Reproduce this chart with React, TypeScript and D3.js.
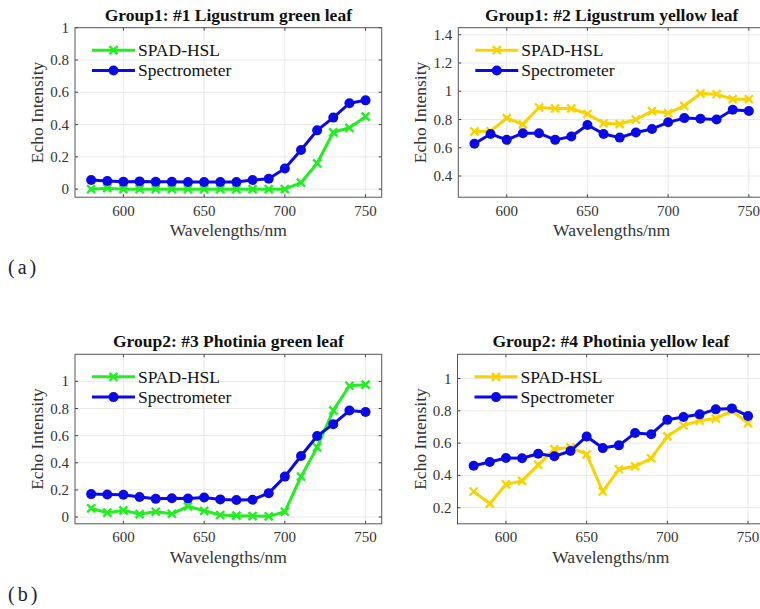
import React from 'react';
import * as d3 from 'd3';

// wavelengths sampled (nm)
const wavelengths = [580, 590, 600, 610, 620, 630, 640, 650, 660, 670, 680, 690, 700, 710, 720, 730, 740, 750];

// #1 Ligustrum green leaf
const ligGreenSpad = [0.0, 0.006, 0.0, 0.0, 0.0, 0.0, 0.0, 0.0, 0.0, 0.0, 0.0, 0.0, 0.0, 0.04, 0.16, 0.352, 0.38, 0.449];
const ligGreenSpec = [0.056, 0.05, 0.046, 0.048, 0.046, 0.046, 0.044, 0.044, 0.044, 0.044, 0.056, 0.064, 0.128, 0.242, 0.364, 0.443, 0.532, 0.55];

// #2 Ligustrum yellow leaf
const ligYellowSpad = [0.715, 0.717, 0.81, 0.766, 0.885, 0.878, 0.878, 0.839, 0.773, 0.768, 0.8, 0.86, 0.846, 0.897, 0.984, 0.979, 0.944, 0.944];
const ligYellowSpec = [0.628, 0.698, 0.656, 0.703, 0.703, 0.656, 0.68, 0.761, 0.698, 0.672, 0.708, 0.733, 0.78, 0.81, 0.806, 0.8, 0.869, 0.86];

// #3 Photinia green leaf
const phoGreenSpad = [0.064, 0.032, 0.049, 0.022, 0.039, 0.024, 0.078, 0.046, 0.015, 0.01, 0.007, 0.005, 0.039, 0.298, 0.513, 0.787, 0.968, 0.976];
const phoGreenSpec = [0.169, 0.166, 0.164, 0.147, 0.134, 0.139, 0.137, 0.144, 0.13, 0.125, 0.127, 0.176, 0.298, 0.45, 0.597, 0.685, 0.785, 0.775];

// #4 Photinia yellow leaf
const phoYellowSpad = [0.3, 0.225, 0.344, 0.366, 0.465, 0.563, 0.573, 0.53, 0.3, 0.438, 0.456, 0.506, 0.641, 0.709, 0.739, 0.752, 0.801, 0.723];
const phoYellowSpec = [0.46, 0.483, 0.508, 0.506, 0.534, 0.518, 0.551, 0.641, 0.569, 0.586, 0.662, 0.655, 0.744, 0.762, 0.778, 0.809, 0.815, 0.768];

const xTicks = [600, 650, 700, 750];
const seriesNames = ['SPAD-HSL', 'Spectrometer'];
const titles = [
  'Group1: #1 Ligustrum green leaf',
  'Group1: #2 Ligustrum yellow leaf',
  'Group2: #3 Photinia green leaf',
  'Group2: #4 Photinia yellow leaf',
];

const GREEN = '#22ee22';
const YELLOW = '#fad200';
const BLUE = '#0a0ae6';
const FONT = 'Liberation Serif, Times New Roman, serif';

const panels = [
  { title: titles[0], left: 75, top: 27.7, spad: ligGreenSpad, spec: ligGreenSpec, color: GREEN, yDomain: [-0.05, 1], yTicks: [0, 0.2, 0.4, 0.6, 0.8, 1] },
  { title: titles[1], left: 458.3, top: 27.7, spad: ligYellowSpad, spec: ligYellowSpec, color: YELLOW, yDomain: [0.25, 1.45], yTicks: [0.4, 0.6, 0.8, 1, 1.2, 1.4] },
  { title: titles[2], left: 75, top: 354.3, spad: phoGreenSpad, spec: phoGreenSpec, color: GREEN, yDomain: [-0.05, 1.2], yTicks: [0, 0.2, 0.4, 0.6, 0.8, 1] },
  { title: titles[3], left: 457.5, top: 354.3, spad: phoYellowSpad, spec: phoYellowSpec, color: YELLOW, yDomain: [0.1, 1.15], yTicks: [0.2, 0.4, 0.6, 0.8, 1] },
];

const W = 306.7;
const H = 169.5;

function XMark({ x, y, color }: { x: number; y: number; color: string }) {
  const s = 4;
  return (
    <g stroke={color} strokeWidth={2.4}>
      <line x1={x - s} y1={y - s} x2={x + s} y2={y + s} />
      <line x1={x - s} y1={y + s} x2={x + s} y2={y - s} />
    </g>
  );
}

function Panel({ p }: { p: any }) {
  const x = d3.scaleLinear().domain([570, 760]).range([0, W]);
  const y = d3.scaleLinear().domain(p.yDomain).range([H, 0]);
  const line = d3.line<number>().x((_, i) => x(wavelengths[i])).y((d) => y(d));
  const fmt = (v: number) => d3.format('~g')(+v.toFixed(2));
  const txt = { fontFamily: FONT };

  return (
    <g transform={`translate(${p.left},${p.top})`}>
      <rect x={0} y={0} width={W} height={H} fill="#fff" />
      {xTicks.map((t) => (
        <line key={'gx' + t} x1={x(t)} x2={x(t)} y1={0} y2={H} stroke="#e3e3e3" strokeWidth={0.8} />
      ))}
      {p.yTicks.map((t: number) => (
        <line key={'gy' + t} x1={0} x2={W} y1={y(t)} y2={y(t)} stroke="#e3e3e3" strokeWidth={0.8} />
      ))}
      {xTicks.map((t) => (
        <g key={'tx' + t}>
          <line x1={x(t)} x2={x(t)} y1={H} y2={H - 3} stroke="#444" />
          <line x1={x(t)} x2={x(t)} y1={0} y2={3} stroke="#444" />
          <text x={x(t)} y={H + 18.5} textAnchor="middle" fontSize={15} fill="#333" style={txt}>{t}</text>
        </g>
      ))}
      {p.yTicks.map((t: number) => (
        <g key={'ty' + t}>
          <line x1={0} x2={3} y1={y(t)} y2={y(t)} stroke="#444" />
          <line x1={W} x2={W - 3} y1={y(t)} y2={y(t)} stroke="#444" />
          <text x={-6} y={y(t) + 5} textAnchor="end" fontSize={15} fill="#333" style={txt}>{fmt(t)}</text>
        </g>
      ))}
      <rect x={0} y={0} width={W} height={H} fill="none" stroke="#555" strokeWidth={1} />

      <path d={line(p.spad) || ''} fill="none" stroke={p.color} strokeWidth={3} strokeLinejoin="round" />
      {p.spad.map((v: number, i: number) => (
        <XMark key={'s' + i} x={x(wavelengths[i])} y={y(v)} color={p.color} />
      ))}
      <path d={line(p.spec) || ''} fill="none" stroke={BLUE} strokeWidth={3} strokeLinejoin="round" />
      {p.spec.map((v: number, i: number) => (
        <circle key={'c' + i} cx={x(wavelengths[i])} cy={y(v)} r={5} fill={BLUE} />
      ))}

      {/* legend */}
      <g>
        <line x1={17} x2={60} y1={22.5} y2={22.5} stroke={p.color} strokeWidth={3} />
        <XMark x={38.5} y={22.5} color={p.color} />
        <text x={63} y={28.5} fontSize={17.5} fill="#111" style={txt}>{seriesNames[0]}</text>
        <line x1={17} x2={60} y1={42.8} y2={42.8} stroke={BLUE} strokeWidth={3} />
        <circle cx={38.5} cy={42.8} r={5} fill={BLUE} />
        <text x={63} y={48.8} fontSize={17.5} fill="#111" style={txt}>{seriesNames[1]}</text>
      </g>

      <text x={W / 2} y={-7} textAnchor="middle" fontSize={17.5} fontWeight="bold" fill="#111" style={txt}>{p.title}</text>
      <text x={W / 2} y={H + 39} textAnchor="middle" fontSize={17.5} fill="#333" style={txt}>Wavelengths/nm</text>
      <text transform={`translate(-32,${H / 2}) rotate(-90)`} textAnchor="middle" fontSize={17.5} fill="#333" style={txt}>Echo Intensity</text>
    </g>
  );
}

export default function App() {
  return (
    <svg width={760} height={609} style={{ position: 'absolute', left: 0, top: 0, background: '#fff' }}>
      <rect width={760} height={609} fill="#fff" />
      {panels.map((p, i) => (
        <Panel key={i} p={p} />
      ))}
      <text x={8} y={274} fontSize={20} letterSpacing={3} fill="#222" style={{ fontFamily: FONT }}>(a)</text>
      <text x={8} y={601} fontSize={20} letterSpacing={3} fill="#222" style={{ fontFamily: FONT }}>(b)</text>
    </svg>
  );
}
